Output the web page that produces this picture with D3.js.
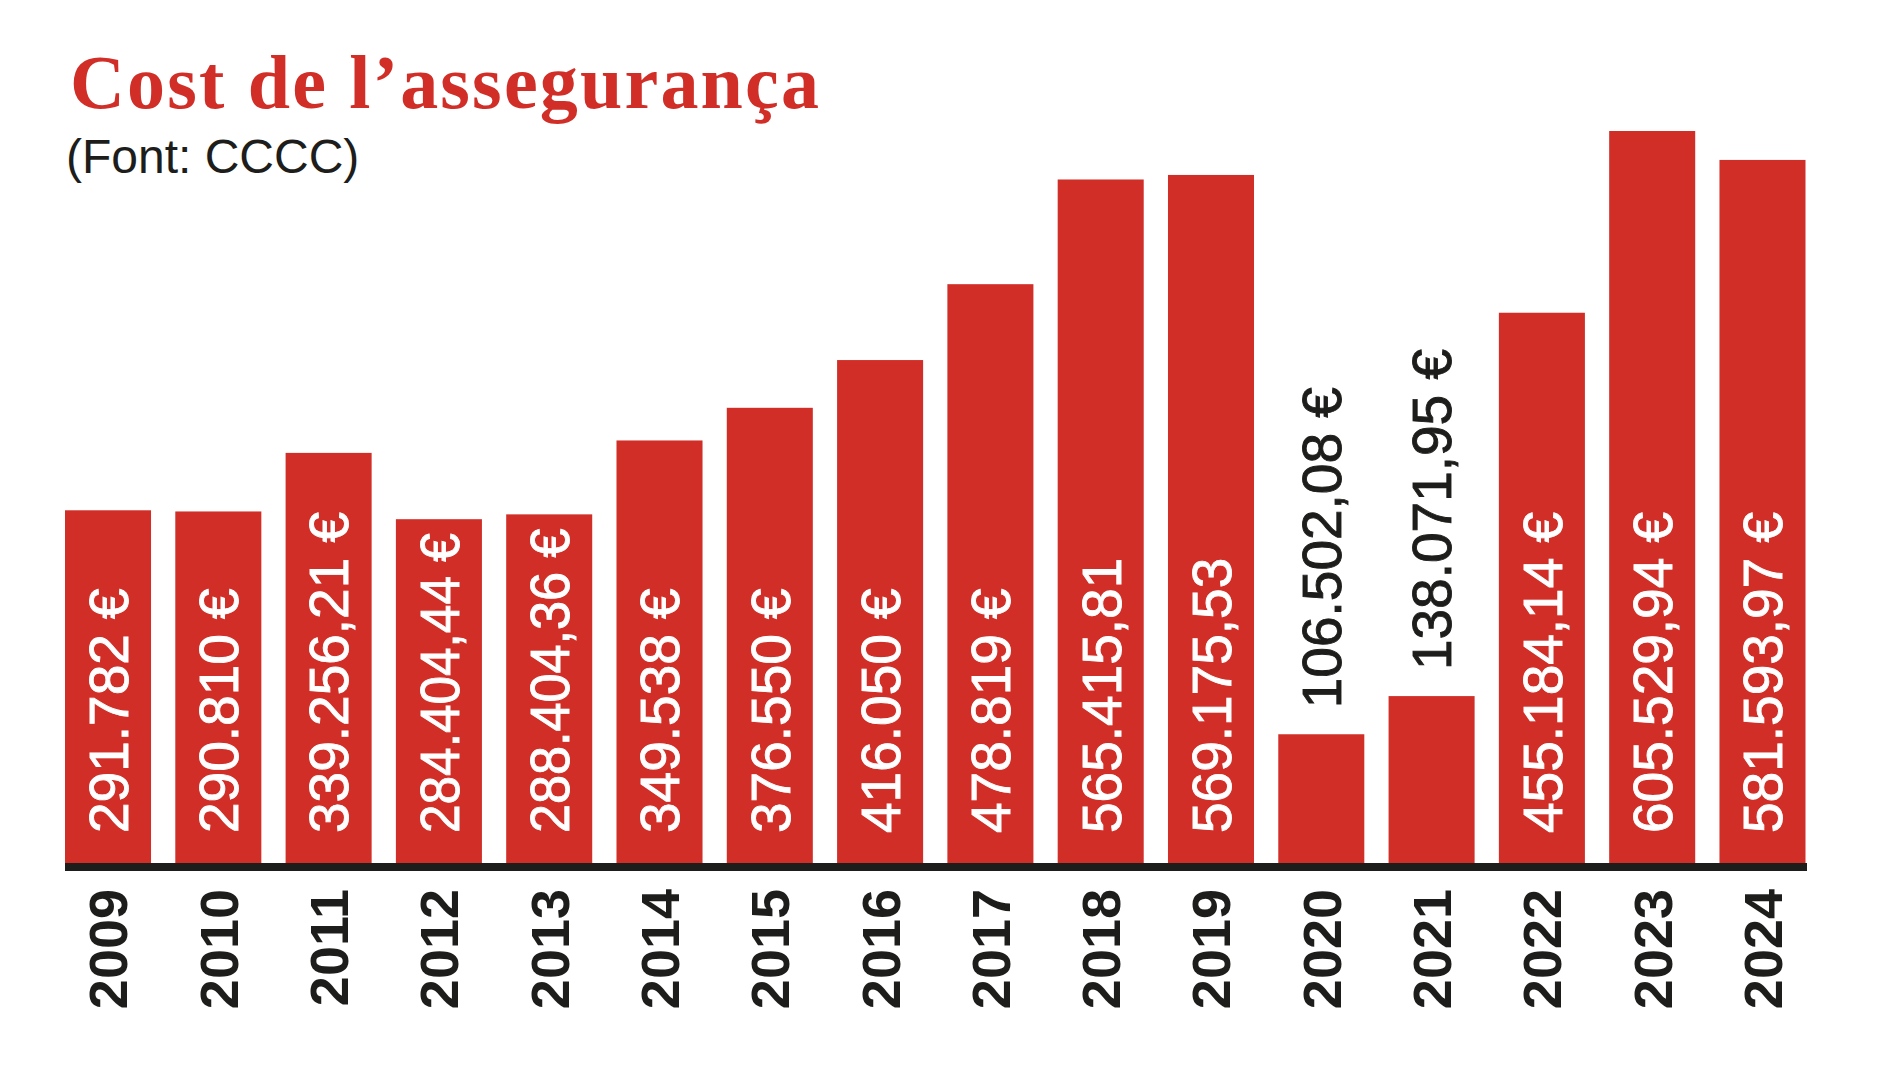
<!DOCTYPE html>
<html>
<head>
<meta charset="utf-8">
<script src="https://cdn.jsdelivr.net/npm/d3@7"></script>
<style>
  body { margin: 0; background: #fff; }
  svg { display: block; }
</style>
</head>
<body>
<div id="chart"></div>
<script>
var years = ["2009", "2010", "2011", "2012", "2013", "2014", "2015", "2016",
             "2017", "2018", "2019", "2020", "2021", "2022", "2023", "2024"];

var costs = [291782, 290810, 339256.21, 284404.44, 288404.36, 349538, 376550, 416050,
             478819, 565415.81, 569175.53, 106502.08, 138071.95, 455184.14, 605529.94, 581593.97];

var labels = ["291.782 €", "290.810 €", "339.256,21 €", "284.404,44 €", "288.404,36 €",
              "349.538 €", "376.550 €", "416.050 €", "478.819 €", "565.415,81",
              "569.175,53", "106.502,08 €", "138.071,95 €", "455.184,14 €",
              "605.529,94 €", "581.593,97 €"];

var data = years.map(function(y, i) {
    return {year: y, value: costs[i], label: labels[i]};
});

var width = 1880,
    height = 1074,
    red = "#d12e28",
    ink = "#1d1d1b",
    sans = "'Liberation Sans', Arial, Helvetica, sans-serif";

var svg = d3.select("#chart")
            .append("svg")
            .attr("width", width)
            .attr("height", height);

// title + source
svg.append("text")
   .attr("x", 70)
   .attr("y", 108)
   .attr("textLength", 749)
   .attr("lengthAdjust", "spacing")
   .style("font-family", "'Liberation Serif', 'Times New Roman', serif")
   .style("font-weight", "bold")
   .style("font-size", "76px")
   .attr("fill", red)
   .text("Cost de l’assegurança");

svg.append("text")
   .attr("x", 66)
   .attr("y", 173)
   .style("font-family", sans)
   .style("font-size", "48px")
   .attr("fill", ink)
   .text("(Font: CCCC)");

var x = d3.scaleBand()
          .domain(years)
          .range([65, 1805.5])
          .paddingInner(0.22)
          .paddingOuter(0);

var y = d3.scaleLinear()
          .domain([0, d3.max(costs)])
          .range([863, 131]);

svg.selectAll("rect.bar")
   .data(data)
   .enter()
   .append("rect")
       .attr("class", "bar")
       .attr("x", function(d) { return x(d.year); })
       .attr("y", function(d) { return y(d.value); })
       .attr("width", x.bandwidth())
       .attr("height", function(d) { return y(0) - y(d.value); })
       .attr("fill", red);

// value labels: inside the bar, or above it when the bar is too short
var outside = function(d) { return d.value < 200000; };
var inset = 30;

var vals = svg.selectAll("g.val")
   .data(data)
   .enter()
   .append("g")
       .attr("class", "val")
       .attr("transform", function(d) {
           var cx = x(d.year) + x.bandwidth() / 2;
           var cy = outside(d) ? y(d.value) - 26 : y(0) - inset;
           return "translate(" + cx + "," + cy + ") rotate(-90)";
       })
   .append("text")
       .attr("dy", "0.36em")
       .attr("text-anchor", "start")
       .style("font-family", sans)
       .style("font-size", "55px")
       .attr("fill", function(d) { return outside(d) ? ink : "#fff"; })
       .attr("stroke", function(d) { return outside(d) ? ink : "#fff"; })
       .attr("stroke-width", 0.9)
       .text(function(d) { return d.label; });

// squeeze labels that would run past the top of their bar
vals.each(function(d) {
    if (outside(d)) return;
    var room = y(0) - y(d.value) - inset - 14;
    if (this.getComputedTextLength() > room) {
        d3.select(this)
          .attr("textLength", room)
          .attr("lengthAdjust", "spacingAndGlyphs");
    }
});

// x axis: thick baseline and rotated years
var axis = svg.append("g")
              .attr("transform", "translate(0," + 867 + ")")
              .call(d3.axisBottom(x).tickSize(0).tickSizeOuter(0));

axis.select(".domain")
    .attr("stroke", ink)
    .attr("stroke-width", 8)
    .attr("d", "M65,0H1807");

axis.selectAll(".tick text")
    .attr("transform", "rotate(-90)")
    .attr("x", -22)
    .attr("y", 0)
    .attr("dy", "0.36em")
    .attr("text-anchor", "end")
    .attr("fill", ink)
    .style("font-family", sans)
    .style("font-weight", "bold")
    .style("font-size", "54px");
</script>
</body>
</html>
